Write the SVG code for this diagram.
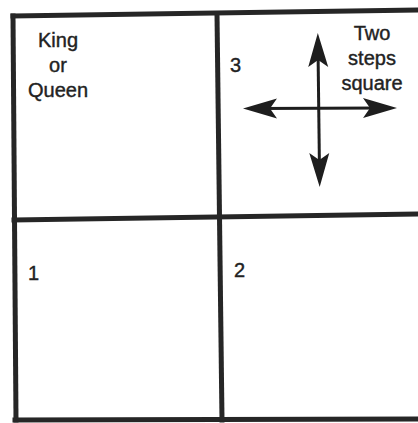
<svg xmlns="http://www.w3.org/2000/svg" width="418" height="423" viewBox="0 0 418 423">
<style>
.grid{fill:none;stroke:#262626;stroke-width:5;stroke-linecap:square}
.lbl{font-family:"Liberation Sans",Arial,sans-serif;font-size:20px;fill:#222;stroke:#222;stroke-width:0.4}
.arr{fill:none;stroke:#1e1e1e;stroke-width:3}
</style>
<defs>
<marker id="head" markerUnits="userSpaceOnUse" orient="auto-start-reverse" overflow="visible" refX="0" refY="0" markerWidth="40" markerHeight="24">
<path d="M15,0 L-19,-10 L-12,0 L-19,10 Z" fill="#1e1e1e"/>
</marker>
</defs>
<rect width="418" height="423" fill="#fff"/>
<g id="grid">
<path class="grid" d="M13,16 L420,10"/>
<path class="grid" d="M14,220 L420,214"/>
<path class="grid" d="M15,420 L420,419"/>
<path class="grid" d="M13,16 L16,420"/>
<path class="grid" d="M217,14 L222,420"/>
</g>
<g id="cell-king">
<text class="lbl" x="58" y="47" text-anchor="middle">King</text>
<text class="lbl" x="58" y="72" text-anchor="middle">or</text>
<text class="lbl" x="58" y="97" text-anchor="middle">Queen</text>
</g>
<g id="cell-3">
<text class="lbl" x="230" y="72">3</text>
<text class="lbl" x="372" y="40" text-anchor="middle">Two</text>
<text class="lbl" x="372" y="65" text-anchor="middle">steps</text>
<text class="lbl" x="372" y="90" text-anchor="middle">square</text>
</g>
<g id="cell-1">
<text class="lbl" x="28" y="280">1</text>
</g>
<g id="cell-2">
<text class="lbl" x="234" y="277">2</text>
</g>
<g id="connectors">
<line class="arr" x1="318" y1="48" x2="319.5" y2="172" marker-start="url(#head)" marker-end="url(#head)"/>
<line class="arr" x1="258" y1="108.5" x2="382" y2="108" marker-start="url(#head)" marker-end="url(#head)"/>
</g>
</svg>
